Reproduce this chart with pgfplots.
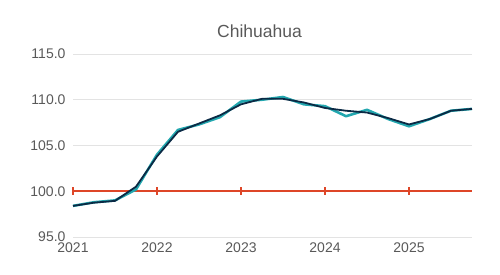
\documentclass[border=0pt]{standalone}
\usepackage{pgfplots}
\pgfplotsset{compat=1.18}
\usepackage{fontspec}
\setmainfont{Liberation Sans}
\definecolor{txt}{HTML}{595959}
\definecolor{teal1}{HTML}{22A7AF}
\definecolor{navy}{HTML}{0B2A45}
\definecolor{redl}{RGB}{222,70,40}
\definecolor{gridc}{HTML}{E3E3E3}
\begin{document}
\begin{tikzpicture}[x=1pt,y=1pt]
\path[use as bounding box] (-73,-38) rectangle (427,237);
\begin{axis}[
  at={(0,0)}, anchor=south west,
  scale only axis, width=399pt, height=183pt,
  xmin=2021, xmax=2025.75, ymin=95, ymax=115,
  axis line style={draw=none},
  xtick={2021,2022,2023,2024,2025},
  xticklabels={2021,2022,2023,2024,2025},
  ytick={95,100,105,110,115},
  yticklabels={95.0,100.0,105.0,110.0,115.0},
  ymajorgrids, grid style={gridc, line width=0.8pt},
  major tick length=0pt,
  tick label style={font=\fontsize{14}{16}\selectfont, text=txt},
  yticklabel style={xshift=-4pt},
  xticklabel style={yshift=-2pt},
  /pgf/number format/assume math mode=true,
  title={Chihuahua},
  title style={font=\fontsize{17.5}{20}\selectfont, text=txt, yshift=7pt, xshift=-13pt},
  clip=false,
]
\addplot[draw=redl, line width=1.6pt, mark=none] coordinates {(2021,100) (2025.75,100)};
\addplot[draw=redl, line width=1.1pt, only marks, mark=|, mark size=4pt, mark options={draw=redl}] coordinates {(2021,100) (2022,100) (2023,100) (2024,100) (2025,100)};
\addplot[teal1, line width=2.6pt, line join=round] coordinates {
(2021.00,98.4) (2021.25,98.8) (2021.50,99.0) (2021.75,100.2)
(2022.00,104.0) (2022.25,106.7) (2022.50,107.3) (2022.75,108.1)
(2023.00,109.8) (2023.25,110.0) (2023.50,110.3) (2023.75,109.5)
(2024.00,109.3) (2024.25,108.2) (2024.50,108.9) (2024.75,107.9)
(2025.00,107.1) (2025.25,107.9) (2025.50,108.8) (2025.75,109.0)};
\addplot[navy, line width=1.8pt, line join=round] coordinates {
(2021.00,98.4) (2021.25,98.75) (2021.50,98.95) (2021.75,100.5)
(2022.00,103.8) (2022.25,106.5) (2022.50,107.4) (2022.75,108.3)
(2023.00,109.5) (2023.25,110.1) (2023.50,110.1) (2023.75,109.7)
(2024.00,109.1) (2024.25,108.8) (2024.50,108.6) (2024.75,108.0)
(2025.00,107.3) (2025.25,107.9) (2025.50,108.8) (2025.75,109.0)};
\end{axis}
\end{tikzpicture}
\end{document}
